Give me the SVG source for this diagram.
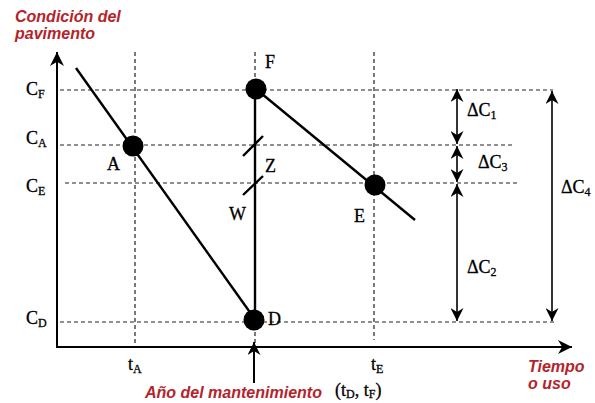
<svg xmlns="http://www.w3.org/2000/svg" width="595" height="403" viewBox="0 0 595 403">
<style>
.dash{stroke:#222;stroke-width:1.2;stroke-dasharray:4 3;fill:none}
.solid{stroke:#000;stroke-width:2.4;fill:none}
.axis{stroke:#000;stroke-width:2;fill:none}
.dim{stroke:#000;stroke-width:1.6;fill:none;marker-start:url(#ah);marker-end:url(#ah)}
.red{font-family:"Liberation Sans",Arial,sans-serif;font-weight:bold;font-style:italic;fill:#b3242b;font-size:16px}
.lab{font-family:"Liberation Serif","Times New Roman",serif;fill:#000;font-size:18px;stroke:#000;stroke-width:0.3}
.sub{font-size:12px}
.dot{fill:#000}
</style>
<defs>
<marker id="ah" viewBox="0 0 10 10" refX="10" refY="5" markerUnits="userSpaceOnUse" markerWidth="15" markerHeight="13" orient="auto-start-reverse">
<path d="M0,0 L10,5 L0,10 L3,5 z" fill="#000"/>
</marker>
<marker id="axh" viewBox="0 0 10 10" refX="10" refY="5" markerUnits="userSpaceOnUse" markerWidth="18" markerHeight="14" orient="auto">
<path d="M0,0 L10,5 L0,10 L3,5 z" fill="#000"/>
</marker>
</defs>
<g id="title">
<text class="red" x="15" y="22">Condición del</text>
<text class="red" x="15" y="39">pavimento</text>
</g>
<g id="grid">
<line class="dash" x1="60" y1="90" x2="553" y2="90"/>
<line class="dash" x1="60" y1="145" x2="512" y2="145"/>
<line class="dash" x1="65" y1="183" x2="520" y2="183"/>
<line class="dash" x1="60" y1="322" x2="555" y2="322"/>
<line class="dash" x1="135" y1="52" x2="135" y2="345"/>
<line class="dash" x1="255" y1="52" x2="255" y2="345"/>
<line class="dash" x1="374" y1="52" x2="374" y2="340"/>
</g>
<g id="axes">
<line class="axis" x1="57" y1="348" x2="57" y2="52" marker-end="url(#axh)"/>
<line class="axis" x1="57" y1="347" x2="572" y2="347" marker-end="url(#axh)"/>
</g>
<g id="connectors">
<line class="solid" x1="76" y1="68" x2="254" y2="318"/>
<line class="solid" x1="256" y1="89" x2="415" y2="220"/>
<line class="solid" x1="255" y1="89" x2="255" y2="320"/>
<line class="solid" stroke-width="1.6" x1="243" y1="156" x2="263" y2="136"/>
<line class="solid" stroke-width="1.6" x1="243" y1="195" x2="263" y2="176"/>
<line class="dim" x1="457" y1="89" x2="457" y2="144"/>
<line class="dim" x1="457" y1="146" x2="457" y2="182"/>
<line class="dim" x1="457" y1="184" x2="457" y2="321"/>
<line class="dim" x1="552" y1="91" x2="552" y2="321"/>
<line class="axis" x1="254" y1="383" x2="254" y2="342" marker-end="url(#ah)"/>
</g>
<g id="nodeA"><circle class="dot" cx="133" cy="146" r="10.5"/><text class="lab" x="107" y="170">A</text></g>
<g id="nodeF"><circle class="dot" cx="256" cy="89" r="10.5"/><text class="lab" x="265" y="68">F</text></g>
<g id="nodeE"><circle class="dot" cx="375" cy="185" r="10.5"/><text class="lab" x="354" y="222">E</text></g>
<g id="nodeD"><circle class="dot" cx="254" cy="320" r="10.5"/><text class="lab" x="268" y="325">D</text></g>
<g id="labels">
<text class="lab" x="265" y="172">Z</text>
<text class="lab" x="229" y="220">W</text>
<text class="lab" x="26" y="95">C<tspan class="sub" dy="3">F</tspan></text>
<text class="lab" x="26" y="144">C<tspan class="sub" dy="3">A</tspan></text>
<text class="lab" x="26" y="192">C<tspan class="sub" dy="3">E</tspan></text>
<text class="lab" x="26" y="324">C<tspan class="sub" dy="3">D</tspan></text>
<text class="lab" x="128" y="370">t<tspan class="sub" dy="3">A</tspan></text>
<text class="lab" x="371" y="370">t<tspan class="sub" dy="3">E</tspan></text>
<text class="lab" x="467" y="116">ΔC<tspan class="sub" dy="3">1</tspan></text>
<text class="lab" x="478" y="168">ΔC<tspan class="sub" dy="3">3</tspan></text>
<text class="lab" x="467" y="273">ΔC<tspan class="sub" dy="3">2</tspan></text>
<text class="lab" x="561" y="193">ΔC<tspan class="sub" dy="3">4</tspan></text>
<text class="red" x="528" y="372">Tiempo</text>
<text class="red" x="528" y="389">o uso</text>
<text class="red" x="145" y="398">Año del mantenimiento</text>
<text class="lab" x="335" y="396">(t<tspan class="sub" dy="2">D</tspan><tspan dy="-2">, t</tspan><tspan class="sub" dy="2">F</tspan><tspan dy="-2">)</tspan></text>
</g>
</svg>
